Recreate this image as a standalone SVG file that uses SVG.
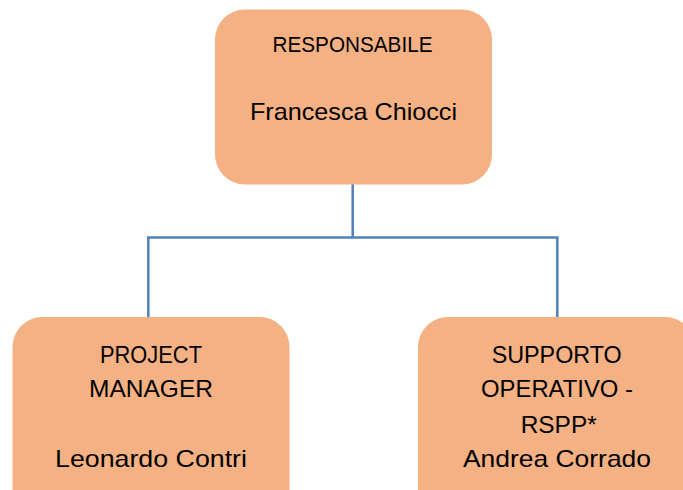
<svg xmlns="http://www.w3.org/2000/svg" width="683" height="490" viewBox="0 0 683 490">
<style>
.box{fill:#F4B183;stroke:none}
.t{font-family:"Liberation Sans","Open Sans",sans-serif;font-size:24px;fill:#000;text-anchor:middle}
.s{font-size:22.5px}
.c{fill:none;stroke:#4F81BD;stroke-width:2.5}
</style>
<rect width="683" height="490" fill="#fff"/>
<g id="connectors">
<path class="c" d="M352.7 184 V237.5 M148.3 318 V237.5 H557.3 V318"/>
</g>
<g id="responsabile">
<rect class="box" x="215" y="9.5" width="277" height="175" rx="30"/>
<text class="t s" x="352.5" y="52" textLength="160" lengthAdjust="spacingAndGlyphs">RESPONSABILE</text>
<text class="t" x="353.5" y="120" textLength="207" lengthAdjust="spacingAndGlyphs">Francesca Chiocci</text>
</g>
<g id="project-manager">
<rect class="box" x="12.5" y="317" width="277" height="215" rx="30"/>
<text class="t" x="151" y="363" textLength="102" lengthAdjust="spacingAndGlyphs">PROJECT</text>
<text class="t" x="151" y="396.5" textLength="124" lengthAdjust="spacingAndGlyphs">MANAGER</text>
<text class="t" x="151" y="466.5" textLength="192" lengthAdjust="spacingAndGlyphs">Leonardo Contri</text>
</g>
<g id="supporto-operativo">
<rect class="box" x="418" y="317" width="277" height="215" rx="30"/>
<text class="t" x="556.7" y="363" textLength="130" lengthAdjust="spacingAndGlyphs">SUPPORTO</text>
<text class="t" x="557" y="396.5" textLength="152" lengthAdjust="spacingAndGlyphs">OPERATIVO -</text>
<text class="t" x="558.7" y="432.5" textLength="76" lengthAdjust="spacingAndGlyphs">RSPP*</text>
<text class="t" x="557" y="466.5" textLength="188" lengthAdjust="spacingAndGlyphs">Andrea Corrado</text>
</g>
</svg>
